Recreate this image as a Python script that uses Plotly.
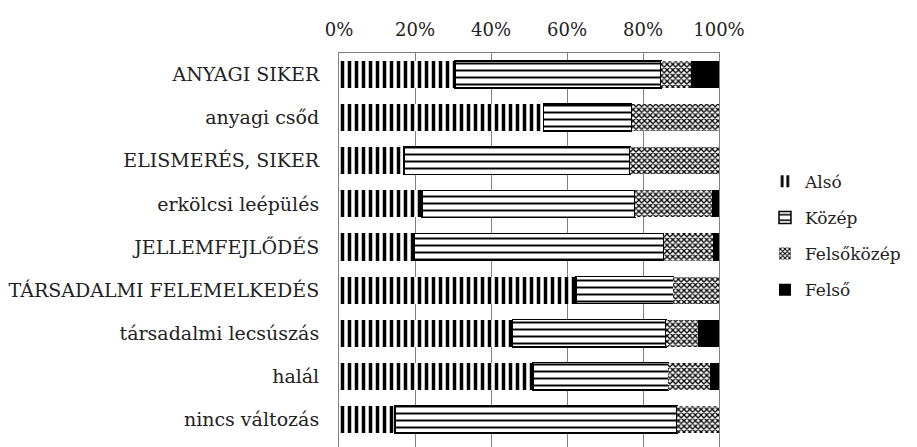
import plotly.graph_objects as go

categories = ["ANYAGI SIKER", "anyagi csőd", "ELISMERÉS, SIKER", "erkölcsi leépülés",
              "JELLEMFEJLŐDÉS", "TÁRSADALMI FELEMELKEDÉS", "társadalmi lecsúszás",
              "halál", "nincs változás"]
also = [30.5, 53.8, 17.1, 21.9, 19.8, 62.4, 45.7, 51.1, 14.7]
kozep = [54.2, 23.2, 59.5, 56.0, 65.6, 25.6, 40.3, 35.6, 74.2]
felsokozep = [7.9, 23.0, 23.4, 20.3, 12.9, 12.0, 8.6, 10.9, 11.1]
felso = [7.4, 0.0, 0.0, 1.8, 1.7, 0.0, 5.4, 2.4, 0.0]
tick_vals = [0, 20, 40, 60, 80, 100]
tick_text = ["0%", "20%", "40%", "60%", "80%", "100%"]

FONT = "DejaVu Serif"

fig = go.Figure()
fig.add_trace(go.Bar(
    orientation="h", y=categories, x=also, name="Alsó", legendgroup="a",
    marker=dict(color="white", line=dict(color="black", width=0),
                pattern=dict(shape="|", fgcolor="#000000", bgcolor="#ffffff", fgopacity=1,
                             fillmode="replace", size=7, solidity=0.5))))
fig.add_trace(go.Bar(
    orientation="h", y=categories, x=kozep, name="Közép", legendgroup="b",
    marker=dict(color="white", line=dict(color="black", width=1.5),
                pattern=dict(shape="-", fgcolor="#000000", bgcolor="#ffffff", fgopacity=1,
                             fillmode="replace", size=7, solidity=0.28))))
fig.add_trace(go.Bar(
    orientation="h", y=categories, x=felsokozep, name="Felsőközép", legendgroup="c",
    marker=dict(color="white", line=dict(color="black", width=0),
                pattern=dict(shape="x", fgcolor="#000000", bgcolor="#ffffff", fgopacity=1,
                             fillmode="replace", size=4, solidity=0.55))))
fig.add_trace(go.Bar(
    orientation="h", y=categories, x=felso, name="Felső", legendgroup="d",
    marker=dict(color="black", line=dict(color="black", width=0))))

fig.update_layout(
    width=909, height=439,
    margin=dict(l=331, r=198, t=45, b=0, autoexpand=False),
    barmode="stack", bargap=0.37,
    plot_bgcolor="white", paper_bgcolor="white",
    font=dict(family=FONT, size=18, color="#222"),
    showlegend=True,
    legend=dict(x=1.121, y=0.536, xanchor="left", yanchor="middle",
                traceorder="grouped", tracegroupgap=11,
                font=dict(family=FONT, size=17, color="#222"),
                itemwidth=30, bgcolor="rgba(0,0,0,0)"),
    xaxis=dict(side="top", range=[0, 100], tickvals=tick_vals, ticktext=tick_text,
               showgrid=True, gridcolor="#808080", gridwidth=1, zeroline=False,
               showline=True, linecolor="#808080", linewidth=1, mirror=False,
               ticks="", ticklabelstandoff=9,
               tickfont=dict(family=FONT, size=18, color="#222")),
    yaxis=dict(autorange=False, range=[8.64, -0.5], showgrid=False, zeroline=False,
               showline=True, linecolor="#808080", linewidth=1, mirror=True,
               ticks="", ticklabelstandoff=15,
               tickfont=dict(family=FONT, size=19, color="#222")),
)

fig.write_html("out.html")
